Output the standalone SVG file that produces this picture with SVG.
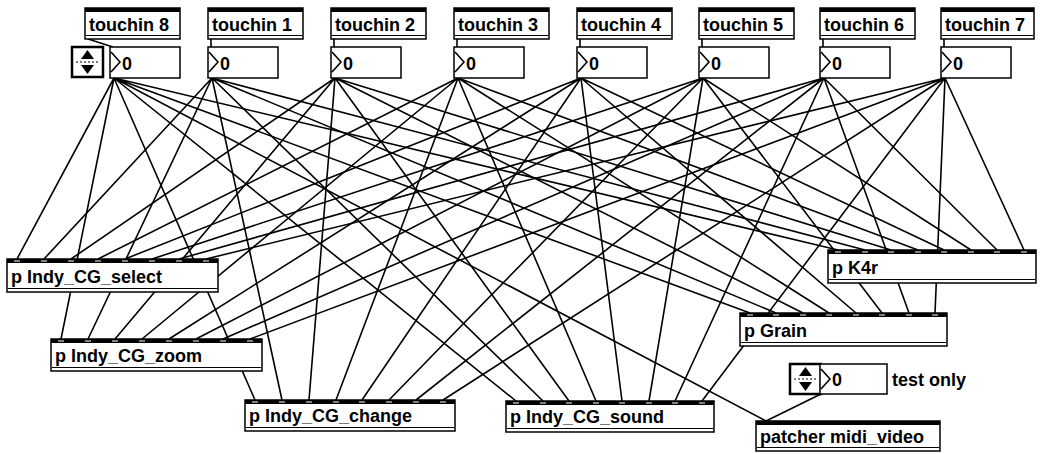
<svg xmlns="http://www.w3.org/2000/svg" width="1040" height="454" viewBox="0 0 1040 454">
<style>
.box{fill:#fff;stroke:#000;stroke-width:1.5}
.bar{fill:#000}
.dash{fill:#fff}
.t{font-family:"Liberation Sans","DejaVu Sans",sans-serif;font-size:18px;font-weight:bold;fill:#000}
.w{stroke:#000;stroke-width:1.6;fill:none}
.thin{stroke:#000;stroke-width:1;fill:none}
</style>
<defs>
<g id="incdec">
<rect x="0" y="0" width="31" height="30" fill="#fff" stroke="#000" stroke-width="2.5"/>
<polygon points="15.5,3 9,12 22,12" fill="#000"/>
<polygon points="15.5,27 9,18 22,18" fill="#000"/>
<line x1="4" y1="15" x2="27" y2="15" stroke="#000" stroke-width="1" stroke-dasharray="2,2"/>
</g>
</defs>
<rect width="1040" height="454" fill="#fff"/>

<g id="connectors" class="w">
<path d="M88,39 L113,47 M211,39 L211,47 M334,39 L334,47 M457,39 L457,47 M580,39 L580,47 M702,39 L702,47 M823,39 L823,47 M944,39 L944,47"/>
<path d="M114,78 L17,259 M114,78 L61,339 M114,78 L255,400 M114,78 L516,401 M114,78 L750,313 M114,78 L838,250 M114,78 L766,421"/>
<path d="M212,78 L44,259 M212,78 L88,339 M212,78 L282,400 M212,78 L543,401 M212,78 L776,313 M212,78 L865,250"/>
<path d="M335,78 L71,259 M335,78 L115,339 M335,78 L309,400 M335,78 L569,401 M335,78 L803,313 M335,78 L891,250"/>
<path d="M458,78 L98,259 M458,78 L142,339 M458,78 L336,400 M458,78 L596,401 M458,78 L829,313 M458,78 L918,250"/>
<path d="M581,78 L125,259 M581,78 L169,339 M581,78 L362,400 M581,78 L622,401 M581,78 L856,313 M581,78 L944,250"/>
<path d="M703,78 L152,259 M703,78 L196,339 M703,78 L389,400 M703,78 L649,401 M703,78 L882,313 M703,78 L971,250"/>
<path d="M824,78 L179,259 M824,78 L223,339 M824,78 L416,400 M824,78 L675,401 M824,78 L909,313 M824,78 L997,250"/>
<path d="M945,78 L206,259 M945,78 L250,339 M945,78 L443,400 M945,78 L702,401 M945,78 L935,313 M945,78 L1024,250"/>
<path d="M823,393 L766,421"/>
</g>

<g id="touchin8">
<rect class="box" x="85" y="8" width="95" height="31"/><rect class="bar" x="85" y="8" width="95" height="4"/><line class="thin" x1="86" y1="35.5" x2="179" y2="35.5"/>
<text class="t" x="89" y="31">touchin 8</text></g>
<g id="touchin1">
<rect class="box" x="208" y="8" width="95" height="31"/><rect class="bar" x="208" y="8" width="95" height="4"/><line class="thin" x1="209" y1="35.5" x2="302" y2="35.5"/>
<text class="t" x="212" y="31">touchin 1</text></g>
<g id="touchin2">
<rect class="box" x="331" y="8" width="95" height="31"/><rect class="bar" x="331" y="8" width="95" height="4"/><line class="thin" x1="332" y1="35.5" x2="425" y2="35.5"/>
<text class="t" x="335" y="31">touchin 2</text></g>
<g id="touchin3">
<rect class="box" x="454" y="8" width="95" height="31"/><rect class="bar" x="454" y="8" width="95" height="4"/><line class="thin" x1="455" y1="35.5" x2="548" y2="35.5"/>
<text class="t" x="458" y="31">touchin 3</text></g>
<g id="touchin4">
<rect class="box" x="577" y="8" width="95" height="31"/><rect class="bar" x="577" y="8" width="95" height="4"/><line class="thin" x1="578" y1="35.5" x2="671" y2="35.5"/>
<text class="t" x="581" y="31">touchin 4</text></g>
<g id="touchin5">
<rect class="box" x="699" y="8" width="95" height="31"/><rect class="bar" x="699" y="8" width="95" height="4"/><line class="thin" x1="700" y1="35.5" x2="793" y2="35.5"/>
<text class="t" x="703" y="31">touchin 5</text></g>
<g id="touchin6">
<rect class="box" x="820" y="8" width="95" height="31"/><rect class="bar" x="820" y="8" width="95" height="4"/><line class="thin" x1="821" y1="35.5" x2="914" y2="35.5"/>
<text class="t" x="824" y="31">touchin 6</text></g>
<g id="touchin7">
<rect class="box" x="941" y="8" width="93" height="31"/><rect class="bar" x="941" y="8" width="93" height="4"/><line class="thin" x1="942" y1="35.5" x2="1033" y2="35.5"/>
<text class="t" x="945" y="31">touchin 7</text></g>

<g id="incdec8"><use href="#incdec" x="72" y="47"/></g>
<g id="num8"><rect class="box" x="110" y="47" width="70" height="31"/><path class="w" d="M111,52 L120,62 L111,72"/><text class="t" x="122" y="70">0</text></g>
<g id="num1"><rect class="box" x="208" y="47" width="70" height="31"/><path class="w" d="M209,52 L218,62 L209,72"/><text class="t" x="220" y="70">0</text></g>
<g id="num2"><rect class="box" x="331" y="47" width="70" height="31"/><path class="w" d="M332,52 L341,62 L332,72"/><text class="t" x="343" y="70">0</text></g>
<g id="num3"><rect class="box" x="454" y="47" width="70" height="31"/><path class="w" d="M455,52 L464,62 L455,72"/><text class="t" x="466" y="70">0</text></g>
<g id="num4"><rect class="box" x="577" y="47" width="70" height="31"/><path class="w" d="M578,52 L587,62 L578,72"/><text class="t" x="589" y="70">0</text></g>
<g id="num5"><rect class="box" x="699" y="47" width="70" height="31"/><path class="w" d="M700,52 L709,62 L700,72"/><text class="t" x="711" y="70">0</text></g>
<g id="num6"><rect class="box" x="820" y="47" width="70" height="31"/><path class="w" d="M821,52 L830,62 L821,72"/><text class="t" x="832" y="70">0</text></g>
<g id="num7"><rect class="box" x="941" y="47" width="70" height="31"/><path class="w" d="M942,52 L951,62 L942,72"/><text class="t" x="953" y="70">0</text></g>

<g id="select">
<rect class="box" x="7" y="259" width="211" height="33"/><rect class="bar" x="7" y="259" width="211" height="4"/>
<line class="thin" x1="8" y1="288.5" x2="217" y2="288.5"/>
<g class="dash"><rect x="14" y="260.5" width="6" height="1"/><rect x="41" y="260.5" width="6" height="1"/><rect x="68" y="260.5" width="6" height="1"/><rect x="95" y="260.5" width="6" height="1"/><rect x="122" y="260.5" width="6" height="1"/><rect x="149" y="260.5" width="6" height="1"/><rect x="176" y="260.5" width="6" height="1"/><rect x="203" y="260.5" width="6" height="1"/></g>
<text class="t" x="11" y="283">p Indy_CG_select</text></g>

<g id="zoom">
<rect class="box" x="51" y="339" width="211" height="32"/><rect class="bar" x="51" y="339" width="211" height="4"/>
<line class="thin" x1="52" y1="367.5" x2="261" y2="367.5"/>
<g class="dash"><rect x="58" y="340.5" width="6" height="1"/><rect x="85" y="340.5" width="6" height="1"/><rect x="112" y="340.5" width="6" height="1"/><rect x="139" y="340.5" width="6" height="1"/><rect x="166" y="340.5" width="6" height="1"/><rect x="193" y="340.5" width="6" height="1"/><rect x="220" y="340.5" width="6" height="1"/><rect x="247" y="340.5" width="6" height="1"/></g>
<text class="t" x="55" y="362">p Indy_CG_zoom</text></g>

<g id="change">
<rect class="box" x="245" y="400" width="210" height="31"/><rect class="bar" x="245" y="400" width="210" height="4"/>
<line class="thin" x1="246" y1="427.5" x2="454" y2="427.5"/>
<g class="dash"><rect x="252" y="401.5" width="6" height="1"/><rect x="279" y="401.5" width="6" height="1"/><rect x="306" y="401.5" width="6" height="1"/><rect x="333" y="401.5" width="6" height="1"/><rect x="359" y="401.5" width="6" height="1"/><rect x="386" y="401.5" width="6" height="1"/><rect x="413" y="401.5" width="6" height="1"/><rect x="440" y="401.5" width="6" height="1"/></g>
<text class="t" x="249" y="422">p Indy_CG_change</text></g>

<g id="sound">
<rect class="box" x="506" y="401" width="208" height="31"/><rect class="bar" x="506" y="401" width="208" height="4"/>
<line class="thin" x1="507" y1="428.5" x2="713" y2="428.5"/>
<g class="dash"><rect x="513" y="402.5" width="6" height="1"/><rect x="540" y="402.5" width="6" height="1"/><rect x="566" y="402.5" width="6" height="1"/><rect x="593" y="402.5" width="6" height="1"/><rect x="619" y="402.5" width="6" height="1"/><rect x="646" y="402.5" width="6" height="1"/><rect x="672" y="402.5" width="6" height="1"/><rect x="699" y="402.5" width="6" height="1"/></g>
<text class="t" x="510" y="423">p Indy_CG_sound</text></g>

<g id="grain">
<rect class="box" x="740" y="313" width="207" height="33"/><rect class="bar" x="740" y="313" width="207" height="4"/>
<line class="thin" x1="741" y1="342.5" x2="946" y2="342.5"/>
<g class="dash"><rect x="747" y="314.5" width="6" height="1"/><rect x="773" y="314.5" width="6" height="1"/><rect x="800" y="314.5" width="6" height="1"/><rect x="826" y="314.5" width="6" height="1"/><rect x="853" y="314.5" width="6" height="1"/><rect x="879" y="314.5" width="6" height="1"/><rect x="906" y="314.5" width="6" height="1"/><rect x="932" y="314.5" width="6" height="1"/></g>
<text class="t" x="744" y="337">p Grain</text></g>

<g id="k4r">
<rect class="box" x="828" y="250" width="208" height="33"/><rect class="bar" x="828" y="250" width="208" height="4"/>
<line class="thin" x1="829" y1="279.5" x2="1035" y2="279.5"/>
<g class="dash"><rect x="835" y="251.5" width="6" height="1"/><rect x="862" y="251.5" width="6" height="1"/><rect x="888" y="251.5" width="6" height="1"/><rect x="915" y="251.5" width="6" height="1"/><rect x="941" y="251.5" width="6" height="1"/><rect x="968" y="251.5" width="6" height="1"/><rect x="994" y="251.5" width="6" height="1"/><rect x="1021" y="251.5" width="6" height="1"/></g>
<text class="t" x="832" y="274">p K4r</text></g>

<g id="incdec_test"><use href="#incdec" x="790" y="364"/></g>
<g id="num_test"><rect class="box" x="820" y="364" width="67" height="30"/><path class="w" d="M821,369 L830,379 L821,389"/><text class="t" x="832" y="386">0</text></g>
<g id="label_test"><text class="t" x="892" y="386">test only</text></g>

<g id="midi_video">
<rect class="box" x="756" y="421" width="184" height="30"/><rect class="bar" x="756" y="421" width="184" height="4"/>
<line class="thin" x1="757" y1="447.5" x2="939" y2="447.5"/>
<text class="t" x="760" y="443">patcher midi_video</text></g>
</svg>
